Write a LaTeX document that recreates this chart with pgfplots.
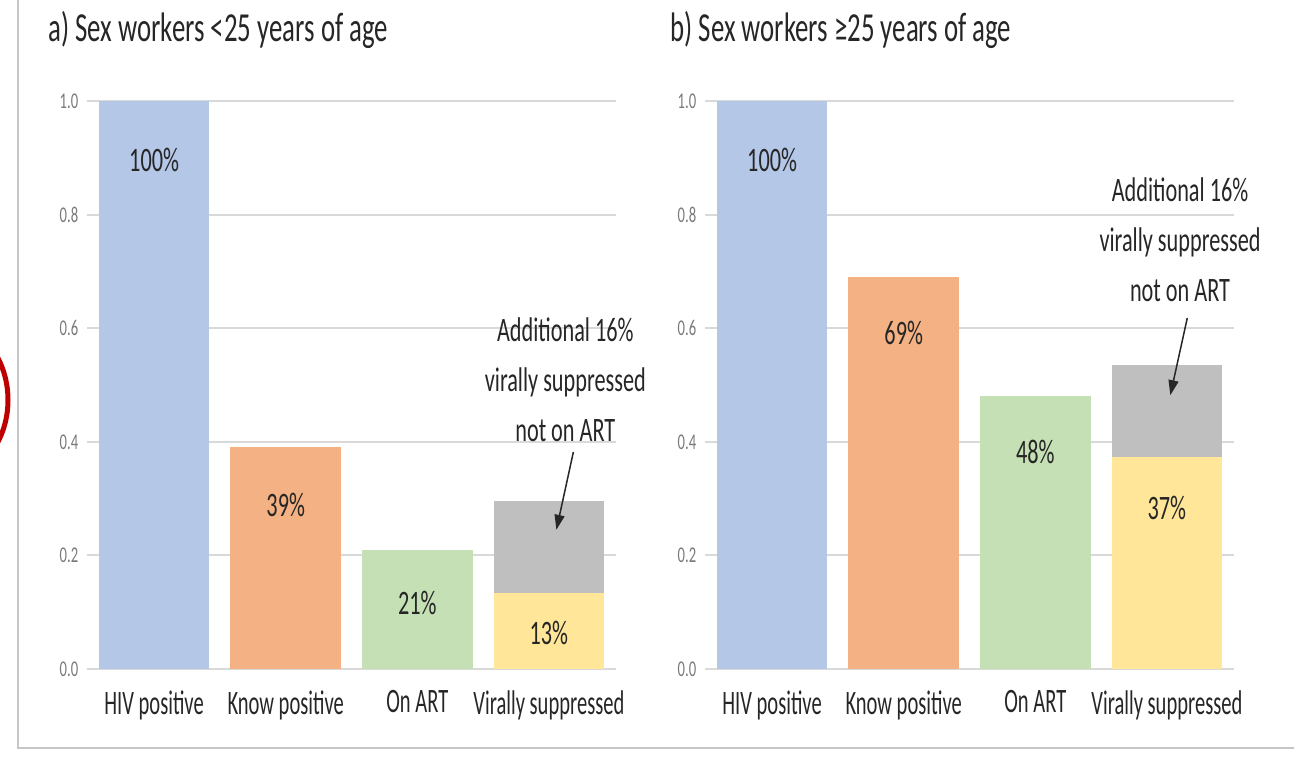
\documentclass[border=0pt]{standalone}
\usepackage{fontspec}
\setmainfont{Carlito}[FakeStretch=0.65]
\newfontfamily\catfont{Carlito}[FakeStretch=0.6]
\usepackage{pgfplots}
\pgfplotsset{compat=1.18}
\usetikzlibrary{arrows.meta}

\definecolor{cblue}{HTML}{B4C7E7}
\definecolor{corange}{HTML}{F4B183}
\definecolor{cgreen}{HTML}{C5E0B4}
\definecolor{cyellow}{HTML}{FFE699}
\definecolor{cgray}{HTML}{BFBFBF}
\definecolor{gridgray}{HTML}{D9D9D9}
\definecolor{ticktext}{HTML}{7A7A7A}
\definecolor{darktext}{HTML}{262626}

\newcommand{\barfont}{\fontsize{13.7}{20}\selectfont}

\pgfplotsset{
  cascade/.style={
    scale only axis, width=211.6pt, height=227.2pt,
    xmin=-0.51, xmax=3.51, ymin=0, ymax=1,
    axis line style={draw=none},
    major tick length=0pt,
    ymajorgrids, grid style={gridgray, line width=0.8pt},
    xtick={0,1,2,3},
    xticklabels={HIV positive, Know positive, On ART, Virally suppressed},
    xticklabel style={font=\catfont\fontsize{13.7}{15}\selectfont, text=darktext, yshift=-5pt},
    ytick={0,0.2,0.4,0.6,0.8,1.0},
    yticklabel style={font=\fontsize{9}{10}\selectfont, text=ticktext,
      /pgf/number format/fixed, /pgf/number format/fixed zerofill,
      /pgf/number format/precision=1},
    /pgf/number format/assume math mode=true,
    ybar, bar width=0.84,
    clip=false,
  },
  mybar/.style={fill=#1, draw=none, bar shift=0pt},
}

\begin{document}
\begin{tikzpicture}
\path[use as bounding box] (0,0) rectangle (517.6pt,302.8pt);
\draw[gray!45, line width=1pt] (7.2pt,302.8pt) -- (7.2pt,3.6pt) -- (517.6pt,3.6pt);
\draw[red!75!black, line width=2pt] (-24pt,142.8pt) ellipse [x radius=27.2pt, y radius=32pt];

% ----- a) under 25 -----
\begin{axis}[cascade, at={(34.8pt,35.2pt)}, anchor=south west]
\addplot[mybar=cblue] coordinates {(0,1.00)};
\addplot[mybar=corange] coordinates {(1,0.39)};
\addplot[mybar=cgreen] coordinates {(2,0.21)};
\addplot[mybar=cgray] coordinates {(3,0.295)};
\addplot[mybar=cyellow] coordinates {(3,0.133)};
\node[text=darktext, font=\barfont] at (axis cs:0,0.896) {100\%};
\node[text=darktext, font=\barfont] at (axis cs:1,0.289) {39\%};
\node[text=darktext, font=\barfont] at (axis cs:2,0.116) {21\%};
\node[text=darktext, font=\barfont] at (axis cs:3,0.063) {13\%};
\node[text=darktext, font=\barfont, align=center] at (axis cs:3.125,0.509)
  {Additional 16\%\\virally suppressed\\not on ART};
\draw[-{Triangle[length=6pt,width=4pt]}, line width=0.6pt, darktext]
  (axis cs:3.186,0.382) -- (axis cs:3.057,0.245);
\end{axis}

% ----- b) 25 and over -----
\begin{axis}[cascade, at={(282pt,35.2pt)}, anchor=south west]
\addplot[mybar=cblue] coordinates {(0,1.00)};
\addplot[mybar=corange] coordinates {(1,0.69)};
\addplot[mybar=cgreen] coordinates {(2,0.48)};
\addplot[mybar=cgray] coordinates {(3,0.535)};
\addplot[mybar=cyellow] coordinates {(3,0.373)};
\node[text=darktext, font=\barfont] at (axis cs:0,0.896) {100\%};
\node[text=darktext, font=\barfont] at (axis cs:1,0.592) {69\%};
\node[text=darktext, font=\barfont] at (axis cs:2,0.382) {48\%};
\node[text=darktext, font=\barfont] at (axis cs:3,0.283) {37\%};
\node[text=darktext, font=\barfont, align=center] at (axis cs:3.10,0.755)
  {Additional 16\%\\virally suppressed\\not on ART};
\draw[-{Triangle[length=6pt,width=4pt]}, line width=0.6pt, darktext]
  (axis cs:3.155,0.618) -- (axis cs:3.026,0.482);
\end{axis}

\node[anchor=west, text=darktext, font=\fontsize{16.5}{18}\selectfont, inner sep=0pt]
  at (19.2pt,290.8pt) {a) Sex workers <25 years of age};
\node[anchor=west, text=darktext, font=\fontsize{16.5}{18}\selectfont, inner sep=0pt]
  at (268pt,290.8pt) {b) Sex workers ≥25 years of age};
\end{tikzpicture}
\end{document}
